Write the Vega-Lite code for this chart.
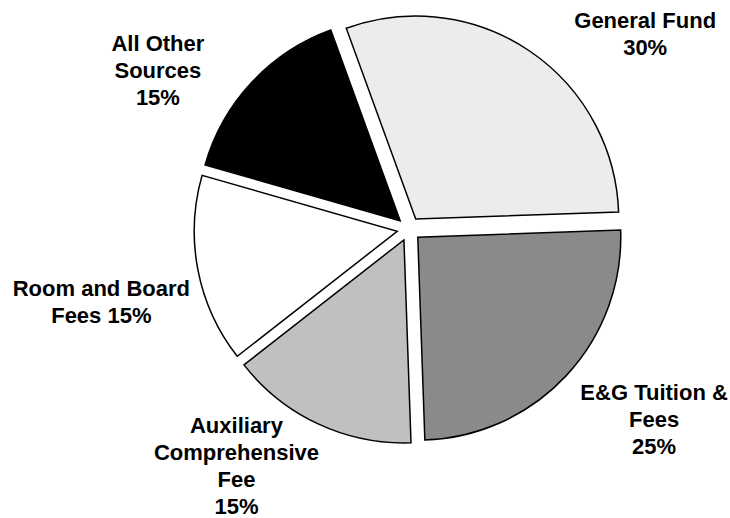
{
  "$schema": "https://vega.github.io/schema/vega-lite/v6.json",
  "autosize": {"type": "none"},
  "width": 642,
  "height": 458,
  "padding": {"left": 88, "top": 0, "right": 0, "bottom": 60},
  "background": "white",
  "data": {
    "values": [
      {"rank": 1, "source": "General Fund", "value": 30, "label": "General Fund\n30%"},
      {"rank": 2, "source": "E&G Tuition & Fees", "value": 25, "label": "E&G Tuition &\nFees\n25%"},
      {"rank": 3, "source": "Auxiliary Comprehensive Fee", "value": 15, "label": "Auxiliary\nComprehensive\nFee\n15%"},
      {"rank": 4, "source": "Room and Board Fees", "value": 15, "label": "Room and Board\nFees 15%"},
      {"rank": 5, "source": "All Other Sources", "value": 15, "label": "All Other\nSources\n15%"}
    ]
  },
  "encoding": {
    "theta": {"field": "value", "type": "quantitative", "stack": true, "scale": {"range": [-0.3491, 5.9341]}},
    "order": {"field": "rank", "type": "quantitative"}
  },
  "layer": [
    {
      "mark": {
        "type": "arc",
        "outerRadius": 203,
        "stroke": "black",
        "strokeWidth": 1.5,
        "xOffset": {"expr": "12*sin((scale('theta', datum.value_start)+scale('theta', datum.value_end))/2)"},
        "yOffset": {"expr": "-12*cos((scale('theta', datum.value_start)+scale('theta', datum.value_end))/2)"}
      },
      "encoding": {
        "color": {
          "field": "source",
          "type": "nominal",
          "legend": null,
          "scale": {
            "domain": ["General Fund", "E&G Tuition & Fees", "Auxiliary Comprehensive Fee", "Room and Board Fees", "All Other Sources"],
            "range": ["#ececec", "#8a8a8a", "#c0c0c0", "#ffffff", "#000000"]
          }
        }
      }
    },
    {
      "mark": {
        "type": "text",
        "radius": 290,
        "font": "Liberation Sans",
        "fontWeight": "bold",
        "fontSize": 22,
        "lineHeight": 27,
        "align": "center",
        "baseline": "middle",
        "lineBreak": "\n",
        "color": "black",
        "dx": {"expr": "datum.rank==1?74:datum.rank==2?33:datum.rank==3?-50:datum.rank==4?-23:-39"},
        "dy": {"expr": "datum.rank==1?32:datum.rank==2?-34:datum.rank==3?-66:datum.rank==4?5:13"}
      },
      "encoding": {
        "text": {"field": "label", "type": "nominal"}
      }
    }
  ]
}
